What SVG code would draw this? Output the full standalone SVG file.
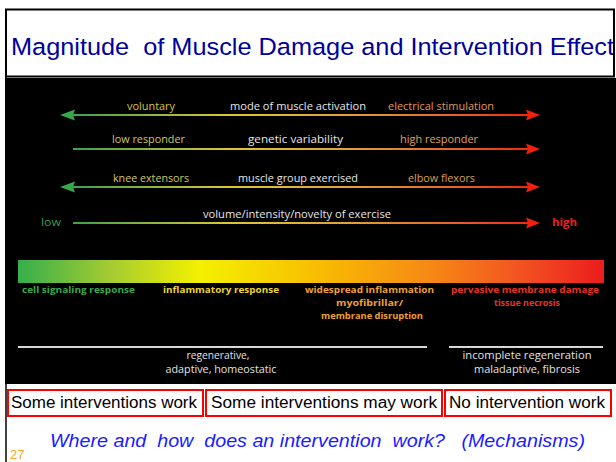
<svg xmlns="http://www.w3.org/2000/svg" width="616" height="462" viewBox="0 0 616 462">
<style>
.lbl{font-family:"Open Sans","Noto Sans","Liberation Sans",sans-serif;font-size:10.5px}
.bar{font-family:"Open Sans","Noto Sans","Liberation Sans",sans-serif;font-size:9.5px;font-weight:bold}
.mid{fill:#e6e6e6}
.lft{fill:#cfc860}
.rgt{fill:#e3a05a}
.box{fill:none;stroke:#ff0000;stroke-width:2}
.boxt{font-family:"Liberation Sans",Arial,sans-serif;font-size:16px;fill:#000}
.line{stroke:url(#lg);stroke-width:2;fill:none}
.wl{stroke:#d8d8d8;stroke-width:2}
.wt{fill:#e2e2e2}
</style>
<defs>
<linearGradient id="lg" gradientUnits="userSpaceOnUse" x1="60" y1="0" x2="540" y2="0">
<stop offset="0" stop-color="#2f9e4c"/>
<stop offset="0.18" stop-color="#8ab43e"/>
<stop offset="0.35" stop-color="#d9c836"/>
<stop offset="0.6" stop-color="#e2a238"/>
<stop offset="0.85" stop-color="#e85a26"/>
<stop offset="1" stop-color="#f01e10"/>
</linearGradient>
<linearGradient id="bg" gradientUnits="userSpaceOnUse" x1="18" y1="0" x2="604" y2="0">
<stop offset="0" stop-color="#35ae4c"/>
<stop offset="0.16" stop-color="#a6cc30"/>
<stop offset="0.31" stop-color="#f4f000"/>
<stop offset="0.5" stop-color="#f8c000"/>
<stop offset="0.7" stop-color="#f68a14"/>
<stop offset="0.86" stop-color="#f25222"/>
<stop offset="1" stop-color="#ec1c1c"/>
</linearGradient>
<path id="lh" d="M0,0 L15,-5.5 L13,0 L15,5.5 Z" fill="#36a84a"/>
<path id="rh" d="M0,0 L-14,-5.5 L-12,0 L-14,5.5 Z" fill="#f2200e"/>
<clipPath id="tc"><rect x="0" y="0" width="614" height="80"/></clipPath>
</defs>
<rect width="616" height="462" fill="#fff"/>
<g id="title">
<text x="11" y="55" clip-path="url(#tc)" xml:space="preserve" font-family="Liberation Sans, Arial, sans-serif" font-size="24.5" fill="#000099" textLength="603" lengthAdjust="spacingAndGlyphs">Magnitude  of Muscle Damage and Intervention Effect</text>
<rect x="6" y="9.5" width="608" height="67" fill="none" stroke="#000" stroke-width="2"/>
</g>
<line x1="6" y1="76" x2="6" y2="462" stroke="#000" stroke-width="1.5"/>
<rect id="panel" x="5" y="78" width="611" height="306" fill="#000"/>
<g id="connectors">
<line class="line" x1="66" y1="115" x2="534" y2="115"/>
<line class="line" x1="73" y1="149" x2="534" y2="149"/>
<line class="line" x1="66" y1="187" x2="534" y2="187"/>
<line class="line" x1="73" y1="223" x2="534" y2="223"/>
<use href="#lh" x="60" y="115"/>
<use href="#rh" x="540" y="115"/>
<use href="#rh" x="540" y="149"/>
<use href="#lh" x="60" y="187"/>
<use href="#rh" x="540" y="187"/>
<use href="#rh" x="540" y="223"/>
</g>
<g id="row1">
<text class="lbl lft" x="127" y="110" textLength="48" lengthAdjust="spacingAndGlyphs" style="fill:#d8c640">voluntary</text>
<text class="lbl mid" x="230" y="110" textLength="136" lengthAdjust="spacingAndGlyphs">mode of muscle activation</text>
<text class="lbl rgt" x="388" y="110" textLength="106" lengthAdjust="spacingAndGlyphs" style="fill:#e2985a">electrical stimulation</text>
</g>
<g id="row2">
<text class="lbl lft" x="112" y="143" textLength="73" lengthAdjust="spacingAndGlyphs">low responder</text>
<text class="lbl mid" x="248" y="143" textLength="95" lengthAdjust="spacingAndGlyphs">genetic variability</text>
<text class="lbl rgt" x="400" y="143" textLength="78" lengthAdjust="spacingAndGlyphs">high responder</text>
</g>
<g id="row3">
<text class="lbl lft" x="113" y="182" textLength="76" lengthAdjust="spacingAndGlyphs">knee extensors</text>
<text class="lbl mid" x="238" y="182" textLength="120" lengthAdjust="spacingAndGlyphs">muscle group exercised</text>
<text class="lbl rgt" x="408" y="182" textLength="67" lengthAdjust="spacingAndGlyphs" style="fill:#d8a050">elbow flexors</text>
</g>
<g id="row4">
<text class="lbl" x="41" y="226" textLength="20" lengthAdjust="spacingAndGlyphs" fill="#3a9c50">low</text>
<text class="lbl mid" x="203" y="218" textLength="188" lengthAdjust="spacingAndGlyphs">volume/intensity/novelty of exercise</text>
<text class="lbl" x="552" y="226" textLength="25" lengthAdjust="spacingAndGlyphs" fill="#ee2020" font-weight="bold">high</text>
</g>
<g id="gradient-bar">
<rect x="18" y="260" width="586" height="23" fill="url(#bg)"/>
<text class="bar" x="22" y="293" textLength="113" lengthAdjust="spacingAndGlyphs" fill="#3aa850">cell signaling response</text>
<text class="bar" x="163" y="293" textLength="116" lengthAdjust="spacingAndGlyphs" fill="#eed630">inflammatory response</text>
<text class="bar" x="305" y="293" textLength="129" lengthAdjust="spacingAndGlyphs" fill="#f0a030">widespread inflammation</text>
<text class="bar" x="336" y="306" textLength="67" lengthAdjust="spacingAndGlyphs" fill="#f0a030">myofibrillar/</text>
<text class="bar" x="321" y="319" textLength="102" lengthAdjust="spacingAndGlyphs" fill="#f0a030">membrane disruption</text>
<text class="bar" x="451" y="293" textLength="148" lengthAdjust="spacingAndGlyphs" fill="#e63422">pervasive membrane damage</text>
<text class="bar" x="494" y="306" textLength="66" lengthAdjust="spacingAndGlyphs" fill="#e63422">tissue necrosis</text>
</g>
<g id="outcome-left">
<line class="wl" x1="18" y1="347" x2="427" y2="347"/>
<text class="lbl wt" x="218" y="359" text-anchor="middle" textLength="63" lengthAdjust="spacingAndGlyphs">regenerative,</text>
<text class="lbl wt" x="221" y="373" text-anchor="middle" textLength="111" lengthAdjust="spacingAndGlyphs">adaptive, homeostatic</text>
</g>
<g id="outcome-right">
<line class="wl" x1="449" y1="347" x2="603" y2="347"/>
<text class="lbl wt" x="527" y="359" text-anchor="middle" textLength="129" lengthAdjust="spacingAndGlyphs">incomplete regeneration</text>
<text class="lbl wt" x="527" y="373" text-anchor="middle" textLength="106" lengthAdjust="spacingAndGlyphs">maladaptive, fibrosis</text>
</g>
<g id="box1">
<rect class="box" x="8" y="390" width="195" height="26"/>
<text class="boxt" x="11" y="408" textLength="186" lengthAdjust="spacingAndGlyphs">Some interventions work</text>
</g>
<g id="box2">
<rect class="box" x="206" y="390" width="236" height="26"/>
<text class="boxt" x="211" y="408" textLength="226" lengthAdjust="spacingAndGlyphs">Some interventions may work</text>
</g>
<g id="box3">
<rect class="box" x="445" y="390" width="166" height="26"/>
<text class="boxt" x="449" y="408" textLength="156" lengthAdjust="spacingAndGlyphs">No intervention work</text>
</g>
<g id="question">
<text x="50" y="447" xml:space="preserve" font-family="Liberation Sans, Arial, sans-serif" font-size="18.5" font-style="italic" fill="#1a1aff" textLength="535" lengthAdjust="spacingAndGlyphs">Where and  how  does an intervention  work?   (Mechanisms)</text>
<text x="10" y="459" font-family="Liberation Sans, Arial, sans-serif" font-size="13" fill="#f5a623">27</text>
</g>
</svg>
